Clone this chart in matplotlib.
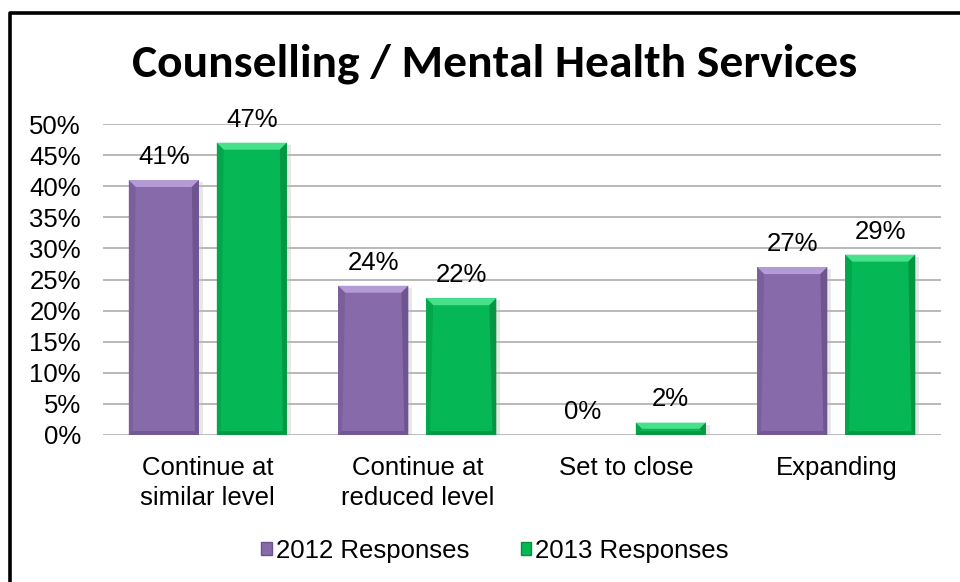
import matplotlib
matplotlib.use("Agg")
import matplotlib.pyplot as plt
from matplotlib.patches import Polygon, Patch, Rectangle
from matplotlib.lines import Line2D
import numpy as np

categories = ["Continue at\nsimilar level", "Continue at\nreduced level", "Set to close", "Expanding"]
series_names = ["2012 Responses", "2013 Responses"]
values_2012 = [41, 24, 0, 27]
values_2013 = [47, 22, 2, 29]
y_ticks = [0, 5, 10, 15, 20, 25, 30, 35, 40, 45, 50]
title = "Counselling / Mental Health Services"

purple = "#876AAA"
purple_top = "#B9A2DA"
purple_side = "#6B528C"
green = "#05B855"
green_top = "#4FE592"
green_side = "#04913F"

REG = ["Liberation Sans", "DejaVu Sans"]
HEAD = ["Carlito", "Lato", "DejaVu Sans"]

W, H = 960, 582
fig = plt.figure(figsize=(W / 100, H / 100), dpi=100)
fig.patch.set_facecolor("white")

ax = fig.add_axes([103 / W, 1 - 435 / H, (941 - 103) / W, (435 - 124) / H])
ax.set_xlim(-0.5, len(categories) - 0.5)
ax.set_ylim(0, 50)

x = np.arange(len(categories))
bw = 0.335
off = 0.21

bars12 = ax.bar(x - off, values_2012, bw, color=purple, zorder=3, linewidth=0)
bars13 = ax.bar(x + off, values_2013, bw, color=green, zorder=3, linewidth=0)

for t in y_ticks:
    ax.axhline(t, color="#A6A6A6", lw=1.1 if t else 1.8, zorder=1)

for s in ax.spines.values():
    s.set_visible(False)
ax.set_yticks(y_ticks)
ax.set_yticklabels([f"{t}%" for t in y_ticks], fontsize=18.5, family=REG)
ax.tick_params(axis="y", length=0, pad=16)
ax.set_xticks(x)
ax.set_xticklabels(categories, fontsize=18.5, family=REG, linespacing=1.3)
ax.tick_params(axis="x", length=0, pad=15)

# data labels above each bar
for bars, vals in ((bars12, values_2012), (bars13, values_2013)):
    for b, v in zip(bars, vals):
        ax.annotate(f"{v}%", (b.get_x() + b.get_width() / 2, v), xytext=(0, 8),
                    textcoords="offset points", ha="center", va="bottom",
                    fontsize=18.5, family=REG, clip_on=False, zorder=5)

fig.canvas.draw()

# bevelled edges and soft shadow on each bar, in pixel space
def bevel(bar, top_c, side_c):
    (x0, y0), (x1, y1) = ax.transData.transform([(bar.get_x(), 0), (bar.get_x() + bar.get_width(), bar.get_height())])
    if y1 - y0 < 1:
        return
    b = min(7, (y1 - y0) / 2)
    s = min(4, (y1 - y0) / 3)
    shadow = Rectangle((x1, y0), 4, y1 - y0 - 2, facecolor="#BDBDBD", alpha=0.35, lw=0,
                       transform=None, zorder=2)
    fig.add_artist(shadow)
    polys = [
        ([(x0, y1), (x1, y1), (x1 - b, y1 - b), (x0 + b, y1 - b)], top_c, 0.9),
        ([(x1, y1), (x1, y0), (x1 - s, y0 + s), (x1 - b, y1 - b)], side_c, 0.85),
        ([(x0, y1), (x0 + b, y1 - b), (x0 + s, y0 + s), (x0, y0)], side_c, 0.45),
        ([(x0, y0), (x1, y0), (x1 - s, y0 + s), (x0 + s, y0 + s)], side_c, 0.75),
    ]
    for pts, c, a in polys:
        fig.add_artist(Polygon(pts, closed=True, facecolor=c, alpha=a, lw=0, transform=None, zorder=4))

for b in bars12:
    bevel(b, purple_top, purple_side)
for b in bars13:
    bevel(b, green_top, green_side)

# title, fitted to its width
t = fig.text(495 / W, 1 - 76 / H, title, ha="center", va="baseline", fontsize=34,
             fontweight="bold", family=HEAD)
fig.canvas.draw()
tw = t.get_window_extent().width
t.set_fontsize(34 * 724 / tw)

# legend
handles = [Patch(facecolor=purple, edgecolor=purple_side, lw=1),
           Patch(facecolor=green, edgecolor=green_side, lw=1)]
fig.legend(handles, series_names, loc="center", bbox_to_anchor=(495 / W, 1 - 551 / H), ncol=2,
           frameon=False, handlelength=0.42, handleheight=0.42, handletextpad=0.15, columnspacing=2.0,
           prop={"family": REG, "size": 18.5})

# frame lines along the top and left
fig.add_artist(Line2D([10 / W, 10 / W, 1], [0, 1 - 12.5 / H, 1 - 12.5 / H], color="black", lw=2.6,
                      transform=fig.transFigure))

fig.savefig("out.png", dpi=100)
